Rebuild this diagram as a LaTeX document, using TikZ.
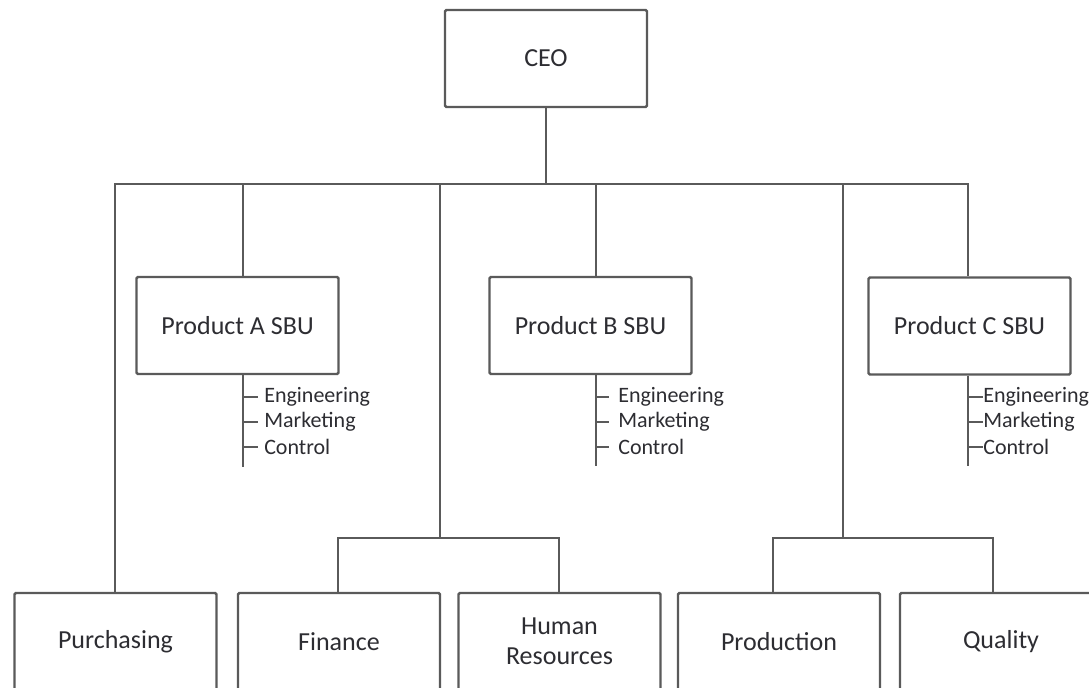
\documentclass[tikz,border=0pt]{standalone}
\usepackage{fontspec}
\setmainfont{Carlito}
\definecolor{linec}{RGB}{90,90,90}
\definecolor{textc}{RGB}{45,45,50}
\begin{document}
\begin{tikzpicture}[x=0.75pt,y=-0.75pt,
  unit/.style={draw=linec,line width=1.8pt,rectangle,rounded corners=1pt,
    minimum width=202*0.75pt,minimum height=97*0.75pt,inner sep=0pt,
    font=\fontsize{19.5}{22.5}\selectfont,text=textc,align=center},
  sub/.style={anchor=west,inner sep=0pt,font=\fontsize{16.5}{18}\selectfont,text=textc},
  conn/.style={draw=linec,line width=1.8pt}]
\useasboundingbox (0,0) rectangle (1089,687);
\clip (0,0) rectangle (1089,687);
\fill[white] (0,0) rectangle (1089,687);

% boxes
\node[unit] (ceo) at (546,58.5) {CEO};
\node[unit] (pa) at (237.5,325.5) {Product A SBU};
\node[unit] (pb) at (590.5,325.5) {Product B SBU};
\node[unit] (pc) at (969.5,326) {Product C SBU};
\node[unit] (pur) at (115.5,641.5) {Purchasing};
\node[unit] (fin) at (339,641.5) {Finance};
\node[unit] (hr) at (559.5,641.5) {Human\\Resources};
\node[unit] (prod) at (779,641.5) {Production};
\node[unit] (qual) at (1001,641.5) {Quality};

% bus coordinates
\coordinate (bl) at (115,184);
\coordinate (br) at (968,184);
\coordinate (bc) at (546,184);
\coordinate (ba) at (243,184);
\coordinate (bm) at (440,184);
\coordinate (bb) at (596,184);
\coordinate (bn) at (843,184);
\coordinate (fl) at (338,538);
\coordinate (fr) at (559,538);
\coordinate (fm) at (440,538);
\coordinate (ql) at (773,538);
\coordinate (qr) at (993,538);
\coordinate (qm) at (843,538);

\draw[conn] (ceo.south) -- (bc);
\draw[conn] (bl |- pur.north) -- (bl) -- (br) -- (br |- pc.north);
\draw[conn] (ba) -- (ba |- pa.north);
\draw[conn] (bb) -- (bb |- pb.north);
\draw[conn] (bm) -- (fm);
\draw[conn] (bn) -- (qm);
\draw[conn] (fl |- fin.north) -- (fl) -- (fr) -- (fr |- hr.north);
\draw[conn] (ql |- prod.north) -- (ql) -- (qr) -- (qr |- qual.north);

% sub-lists A
\node[sub] (ae) at (264,397) {Engineering};
\node[sub] (am) at (264,422) {Marketing};
\node[sub] (ac) at (264,447) {Control};
\coordinate (aend) at (243,467);
\draw[conn] (pa.south -| aend) -- (aend);
\foreach \n in {ae,am,ac} \draw[conn] (aend |- \n.west) -- ([xshift=-6*0.75pt]\n.west);

% sub-lists B
\node[sub] (be) at (618,397) {Engineering};
\node[sub] (bm2) at (618,422) {Marketing};
\node[sub] (bc2) at (618,447) {Control};
\coordinate (bend) at (596,466);
\draw[conn] (pb.south -| bend) -- (bend);
\foreach \n in {be,bm2,bc2} \draw[conn] (bend |- \n.west) -- ([xshift=-9*0.75pt]\n.west);

% sub-lists C
\node[sub] (ce) at (983,397) {Engineering};
\node[sub] (cm) at (983,422) {Marketing};
\node[sub] (cc) at (983,447) {Control};
\coordinate (cend) at (968,466);
\draw[conn] (pc.south -| cend) -- (cend);
\foreach \n in {ce,cm,cc} \draw[conn] (cend |- \n.west) -- (\n.west);
\end{tikzpicture}
\end{document}
